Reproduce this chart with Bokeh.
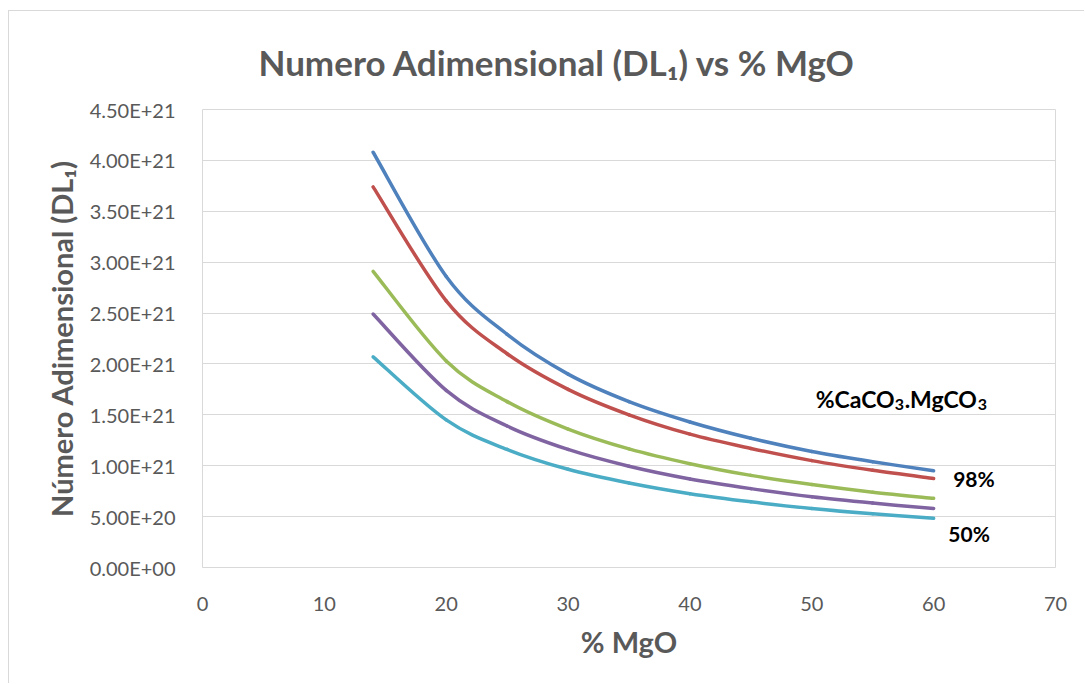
from bokeh.plotting import figure
from bokeh.models import FixedTicker, CustomJSTickFormatter, Range1d
from bokeh.core.properties import value
from bokeh.embed import file_html
from bokeh.resources import INLINE

# ---- data ----
mgo = [14, 20, 25, 30, 35, 40, 45, 50, 55, 60]
s98 = [4.08e21, 2.86e21, 2.29e21, 1.90e21, 1.63e21, 1.43e21, 1.27e21, 1.14e21, 1.04e21, 0.95e21]
s90 = [3.74e21, 2.62e21, 2.10e21, 1.75e21, 1.50e21, 1.31e21, 1.17e21, 1.05e21, 0.955e21, 0.875e21]
s70 = [2.91e21, 2.03e21, 1.63e21, 1.36e21, 1.165e21, 1.02e21, 0.905e21, 0.815e21, 0.74e21, 0.68e21]
s60 = [2.49e21, 1.74e21, 1.39e21, 1.16e21, 0.995e21, 0.87e21, 0.775e21, 0.695e21, 0.633e21, 0.58e21]
s50 = [2.07e21, 1.45e21, 1.16e21, 0.965e21, 0.83e21, 0.725e21, 0.645e21, 0.58e21, 0.527e21, 0.483e21]
series = [s98, s90, s70, s60, s50]
colors = ["#4F81BD", "#C0504D", "#9BBB59", "#8064A2", "#4BACC6"]

x_ticks = [0, 10, 20, 30, 40, 50, 60, 70]
y_ticks = [0, 0.5e21, 1.0e21, 1.5e21, 2.0e21, 2.5e21, 3.0e21, 3.5e21, 4.0e21, 4.5e21]

title_text = "Numero Adimensional (DL\u2081) vs % MgO"
ylabel_text = "N\u00famero Adimensional (DL\u2081)"
xlabel_text = "% MgO"
legend_parts = ["%CaCO", "3", ".MgCO", "3"]
label_hi = "98%"
label_lo = "50%"

FONT = "Lato"
GREY = "#595959"

OX, OY = 9, 11  # outer chart frame offset inside the window

p = figure(width=1085 - OX, height=684 - OY, output_backend="svg", toolbar_location=None,
           x_range=Range1d(0, 70), y_range=Range1d(0, 4.5e21),
           min_border_left=202 - OX, min_border_right=30, min_border_top=109 - OY,
           min_border_bottom=117)
p.styles = {"margin-left": "8px", "margin-top": "10px",
            "border-left": "1px solid #d9d9d9", "border-top": "1px solid #d9d9d9"}

p.title.text = title_text
p.title.text_font = FONT
p.title.text_font_size = "35px"
p.title.text_font_style = "bold"
p.title.text_color = GREY
p.title.align = "left"
p.title.offset = 56
p.title.standoff = 54

p.outline_line_color = "#d9d9d9"
p.xgrid.grid_line_color = None
p.ygrid.grid_line_color = "#d9d9d9"
p.ygrid.grid_line_width = 1

p.xaxis.ticker = FixedTicker(ticks=x_ticks)
p.yaxis.ticker = FixedTicker(ticks=y_ticks)
p.yaxis.formatter = CustomJSTickFormatter(code="""
var s = tick.toExponential(2).toUpperCase();
return s.replace(/E\\+(\\d)$/, 'E+0$1');
""")
for ax in (p.xaxis[0], p.yaxis[0]):
    ax.axis_line_color = None
    ax.major_tick_line_color = None
    ax.minor_tick_line_color = None
    ax.major_label_text_font = FONT
    ax.major_label_text_font_size = "20px"
    ax.major_label_text_color = GREY
    ax.axis_label_text_font = FONT
    ax.axis_label_text_font_style = "bold"
    ax.axis_label_text_color = GREY

p.xaxis.axis_label = xlabel_text
p.yaxis.axis_label = ylabel_text
p.xaxis.axis_label_text_font_size = "29px"
p.yaxis.axis_label_text_font_size = "29px"
p.xaxis.major_label_standoff = 23
p.yaxis.major_label_standoff = 21
p.xaxis.axis_label_standoff = 10
p.yaxis.axis_label_standoff = 8

# smooth curves: Catmull-Rom segments drawn as cubic Beziers
for ys, c in zip(series, colors):
    n = len(mgo)
    x0, y0, x1, y1, cx0, cy0, cx1, cy1 = [], [], [], [], [], [], [], []
    for i in range(n - 1):
        pxm = mgo[i - 1] if i > 0 else mgo[i]
        pym = ys[i - 1] if i > 0 else ys[i]
        pxp = mgo[i + 2] if i + 2 < n else mgo[i + 1]
        pyp = ys[i + 2] if i + 2 < n else ys[i + 1]
        x0.append(mgo[i]); y0.append(ys[i])
        x1.append(mgo[i + 1]); y1.append(ys[i + 1])
        cx0.append(mgo[i] + (mgo[i + 1] - pxm) / 6.0)
        cy0.append(ys[i] + (ys[i + 1] - pym) / 6.0)
        cx1.append(mgo[i + 1] - (pxp - mgo[i]) / 6.0)
        cy1.append(ys[i + 1] - (pyp - ys[i]) / 6.0)
    p.bezier(x0=x0, y0=y0, x1=x1, y1=y1, cx0=cx0, cy0=cy0, cx1=cx1, cy1=cy1,
             line_color=c, line_width=3.5, line_cap="round")

# legend title with true subscripts: "%CaCO" | 3 | ".MgCO" | 3
lx, ly = 56.8, 1.66e21
common = dict(text_font=value(FONT), text_font_style="bold", text_color="black",
              text_baseline="middle")
p.text(x=[lx], y=[ly], text=[legend_parts[0]], text_font_size="23px",
       text_align="right", **common)
p.text(x=[lx], y=[ly], text=[legend_parts[1]], text_font_size="16px",
       text_align="left", x_offset=0, y_offset=6, **common)
p.text(x=[lx], y=[ly], text=[legend_parts[2]], text_font_size="23px",
       text_align="left", x_offset=10, **common)
p.text(x=[lx], y=[ly], text=[legend_parts[3]], text_font_size="16px",
       text_align="left", x_offset=83, y_offset=6, **common)

p.text(x=[61.6, 61.2], y=[0.874e21, 0.334e21], text=[label_hi, label_lo],
       text_font_size="21px", text_align="left", **common)

open("out.html", "w").write(file_html(p, INLINE))
